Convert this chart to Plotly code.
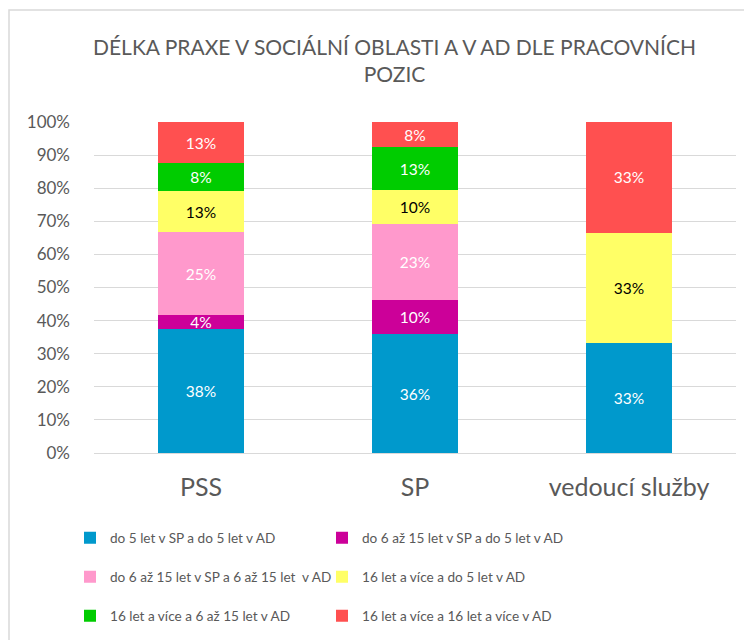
import plotly.graph_objects as go

categories = ["PSS", "SP", "vedoucí služby"]
series_names = [
    "do 5 let v SP a do 5 let v AD",
    "do 6 až 15 let v SP a do 5 let v AD",
    "do 6 až 15 let v SP a 6 až 15 let  v AD",
    "16 let a více a do 5 let v AD",
    "16 let a více a 6 až 15 let v AD",
    "16 let a více a 16 let a více v AD",
]
s1 = [37.5, 35.9, 33.3]
s2 = [4.2, 10.3, 0]
s3 = [25.0, 23.1, 0]
s4 = [12.5, 10.2, 33.3]
s5 = [8.3, 12.8, 0]
s6 = [12.5, 7.6, 33.3]
series_values = [s1, s2, s3, s4, s5, s6]
colors = ["#0099CC", "#CC0099", "#FF99CC", "#FFFF66", "#00CC00", "#FF5050"]
text_colors = ["white", "white", "white", "black", "white", "white"]
y_ticks = [0, 10, 20, 30, 40, 50, 60, 70, 80, 90, 100]
y_tick_labels = [f"{v}%" for v in y_ticks]

FONT = "Lato"
GRAY = "#595959"
OFF = 8  # browser body margin
W, H = 752 - OFF, 640 - OFF
L, T = 94 - OFF, 122 - OFF
R = W - (736 - OFF)
B = H - (453 - OFF)
PW, PH = W - L - R, H - T - B

def px_x(ref_px):
    return (ref_px - OFF - L) / PW

def px_y(ref_py):
    return 1 - (ref_py - OFF - T) / PH

def pct(v):
    return f"{int(v + 0.5)}%" if v else ""

legend_ids = ["legend", "legend2", "legend3", "legend4", "legend5", "legend6"]
legend_cols = [70, 322]          # reference px of legend item left edges
legend_rows = [538, 577, 616]    # reference px of legend row centres

fig = go.Figure()
for name, vals, col, tcol, lg in zip(series_names, series_values, colors, text_colors, legend_ids):
    fig.add_trace(go.Bar(
        x=categories, y=vals, name=name,
        marker=dict(color=col, line=dict(width=0)),
        text=[pct(v) for v in vals],
        textposition="inside", insidetextanchor="middle", textangle=0,
        textfont=dict(color=tcol, size=15.5, family=FONT),
        constraintext="none", cliponaxis=False,
        legend=lg, hoverinfo="skip",
    ))

legend_common = dict(
    orientation="h", xanchor="left", yanchor="middle",
    xref="container", yref="container",
    font=dict(family=FONT, size=13.6, color=GRAY),
    bgcolor="rgba(0,0,0,0)", itemclick=False, itemdoubleclick=False,
)
legends = {}
for i, lg in enumerate(legend_ids):
    cx = legend_cols[i % 2]
    cy = legend_rows[i // 2]
    legends[lg] = dict(**legend_common, x=(cx - OFF) / W, y=1 - (cy - OFF) / H)

fig.update_layout(
    width=W, height=H,
    margin=dict(l=L, r=R, t=T, b=B, pad=0, autoexpand=False),
    paper_bgcolor="white", plot_bgcolor="white",
    barmode="stack", bargap=0.6,
    font=dict(family=FONT, color=GRAY),
    uniformtext=dict(minsize=14, mode="show"),
    showlegend=True,
    xaxis=dict(
        showgrid=False, showline=False, zeroline=False,
        tickfont=dict(family=FONT, size=25, color=GRAY),
        ticklabelstandoff=17, automargin=False,
    ),
    yaxis=dict(
        range=[0, 100], tickmode="array", tickvals=y_ticks, ticktext=y_tick_labels,
        showgrid=True, gridcolor="#d9d9d9", gridwidth=1,
        zeroline=True, zerolinecolor="#d9d9d9", zerolinewidth=1,
        showline=False, automargin=False,
        tickfont=dict(family=FONT, size=17, color=GRAY),
        ticklabelstandoff=23,
    ),
    annotations=[dict(
        text="DÉLKA PRAXE V SOCIÁLNÍ OBLASTI A V AD DLE PRACOVNÍCH<br>POZIC",
        xref="paper", yref="paper", x=px_x(394), y=px_y(60),
        xanchor="center", yanchor="middle", showarrow=False,
        font=dict(family=FONT, size=21, color=GRAY),
    )],
    shapes=[dict(
        type="rect", xref="paper", yref="paper",
        x0=px_x(9), x1=px_x(800), y0=px_y(700), y1=px_y(10),
        line=dict(color="#d9d9d9", width=1.5), fillcolor="rgba(0,0,0,0)",
        layer="below",
    )],
    **legends,
)

fig.write_html("out.html")
